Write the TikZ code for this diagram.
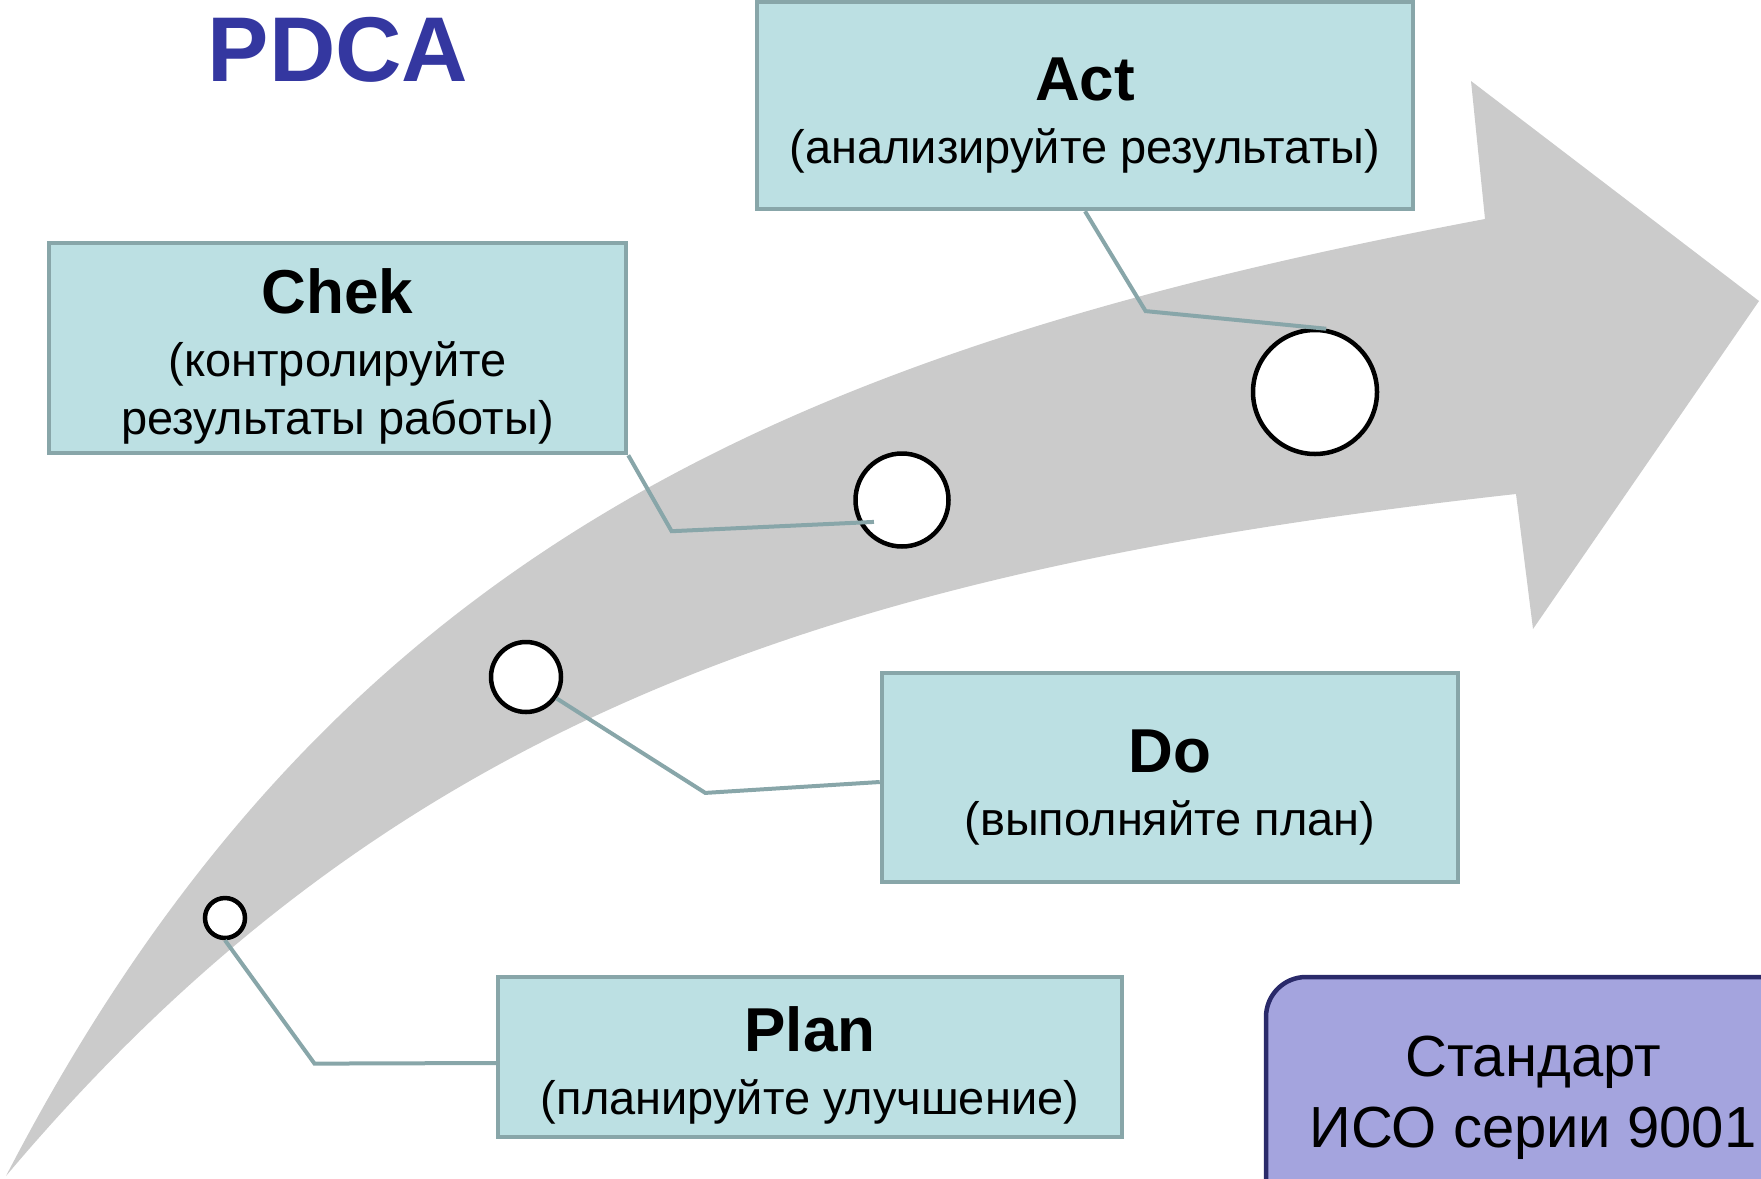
\documentclass[tikz,border=0pt]{standalone}
\usepackage{fontspec}
\setmainfont{Liberation Sans}
\usepackage{tikz}
\usetikzlibrary{positioning}
\usetikzlibrary{calc}

\definecolor{boxfill}{HTML}{BCE0E3}
\definecolor{boxline}{HTML}{88A6A9}
\definecolor{arrowgrey}{HTML}{CBCBCB}
\definecolor{stdfill}{HTML}{A4A4DE}
\definecolor{stdline}{HTML}{2A2A6A}
\definecolor{pdcablue}{HTML}{3437A0}

\newcommand\headfont{\bfseries\fontsize{62}{58}\selectfont\rule{0pt}{62pt}}
\newcommand\notefont{\fontsize{47}{58}\selectfont}

\begin{document}
\begin{tikzpicture}[x=1pt, y=-1pt,
        box/.style={rectangle, draw=boxline, fill=boxfill, line width=4.5pt, align=center, font=\notefont},
        dot/.style={circle, draw=black, fill=white, line width=4.5pt, inner sep=0pt},
        link/.style={draw=boxline, line width=4pt},
        stdbox/.style={rectangle, rounded corners=40pt, draw=stdline, fill=stdfill, line width=4.5pt, align=center, font=\fontsize{58}{71}\selectfont}
      ]
        \useasboundingbox (0,0) rectangle (1761,1178);

        % curved arrow
        \fill[arrowgrey] (6,1176) .. controls (330,550) and (790,350) .. (1485,219) -- (1471,81) -- (1759,301)
            -- (1533,629) -- (1516,494) .. controls (830,570) and (390,720) .. (6,1176) -- cycle;

        \node[text=pdcablue, font=\bfseries\fontsize{92}{92}\selectfont] (title) at (338,50) {PDCA};

        \node[dot, minimum size=40pt]  (pc)  at (225,918)  {};
        \node[dot, minimum size=70pt]  (dc)  at (526,677)  {};
        \node[dot, minimum size=93pt]  (cc)  at (902,500)  {};
        \node[dot, minimum size=124pt] (ac)  at (1315,392) {};

        \node[box, minimum width=624pt, minimum height=160pt] (plan) at (810,1057)   {{\headfont Plan}\\[5pt](планируйте улучшение)};
        \node[box, minimum width=576pt, minimum height=209pt] (do)   at (1170,777.5) {{\headfont Do}\\[5pt](выполняйте план)};
        \node[box, minimum width=577pt, minimum height=210pt] (chek) at (337.5,348)  {{\headfont Chek}\\[5pt](контролируйте\\результаты работы)};
        \node[box, minimum width=656pt, minimum height=207pt] (act)  at (1085,105.5) {{\headfont Act}\\[5pt](анализируйте результаты)};

        \node[stdbox, minimum width=534pt, minimum height=242pt] (std) at (1533,1098) {Стандарт\\ИСО серии 9001};

        \coordinate (pbend) at (314.5,1063.6);
        \coordinate (dbend) at (705.3,792.9);
        \coordinate (cbend) at (671.6,531.2);
        \coordinate (abend) at (1145.6,311.1);

        \draw[link] (pc.south) -- (pbend) -- ([yshift=-6pt]plan.west);
        \draw[link] (dc.-35) -- (dbend) -- ([yshift=-4.5pt]do.west);
        \draw[link] (chek.south east) -- (cbend) -- ($(cc)!0.73!(cc.218)$);
        \draw[link] (act.south) -- (abend) -- (ac.80);
      \end{tikzpicture}
\end{document}
